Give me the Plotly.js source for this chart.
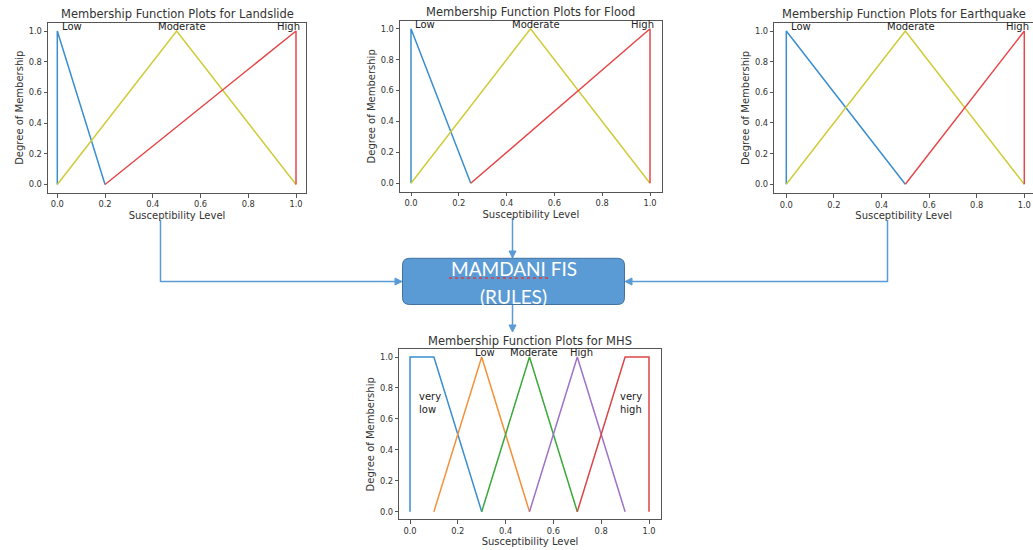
<!DOCTYPE html>
<html><head><meta charset="utf-8">
<script src="https://cdn.plot.ly/plotly-3.0.1.min.js"></script>
<style>html,body{margin:0;padding:0;background:#fff;} #chart{width:1033px;height:550px;}</style>
</head><body><div id="chart"></div>
<script>
// ---------- data ----------
const tickVals = [0, 0.2, 0.4, 0.6, 0.8, 1.0];
const tickText = ['0.0', '0.2', '0.4', '0.6', '0.8', '1.0'];
const mfNames = ['Low', 'Moderate', 'High'];
const mhsNames = ['very low', 'Low', 'Moderate', 'High', 'very high'];

const landslideLowX = [0, 0, 0.2],  landslideLowY = [0, 1, 0];
const landslideModX = [0, 0.5, 1],  landslideModY = [0, 1, 0];
const landslideHighX = [0.2, 1, 1], landslideHighY = [0, 1, 0];

const floodLowX = [0, 0, 0.25],  floodLowY = [0, 1, 0];
const floodModX = [0, 0.5, 1],   floodModY = [0, 1, 0];
const floodHighX = [0.25, 1, 1], floodHighY = [0, 1, 0];

const quakeLowX = [0, 0, 0.5],  quakeLowY = [0, 1, 0];
const quakeModX = [0, 0.5, 1],  quakeModY = [0, 1, 0];
const quakeHighX = [0.5, 1, 1], quakeHighY = [0, 1, 0];

const mhsVeryLowX = [0, 0, 0.1, 0.3],  mhsVeryLowY = [0, 1, 1, 0];
const mhsLowX = [0.1, 0.3, 0.5],       mhsLowY = [0, 1, 0];
const mhsModX = [0.3, 0.5, 0.7],       mhsModY = [0, 1, 0];
const mhsHighX = [0.5, 0.7, 0.9],      mhsHighY = [0, 1, 0];
const mhsVeryHighX = [0.7, 0.9, 1, 1], mhsVeryHighY = [0, 1, 1, 0];

// ---------- layout helpers ----------
const W = 1033, H = 550;
const P = x => x / W, Q = y => 1 - y / H;
const FONT = 'DejaVu Sans';
const TXT = '#333333';
const C3 = ['#3a8ed0', '#cfcc3a', '#e8474a'];
const C5 = ['#3a8ed0', '#f5903a', '#3aa83a', '#9d72c8', '#dc4446'];

const panels = [
  {k: '',  title: 'Membership Function Plots for Landslide',  L: 48,    R: 306,   T: 22.5,  B: 193,   x0: 57.3,  x1: 296,    y1: 31,   y0: 184.5},
  {k: '2', title: 'Membership Function Plots for Flood',      L: 400,   R: 661.7, T: 21,    B: 191.7, x0: 411,   x1: 650,    y1: 28.7, y0: 183.3},
  {k: '3', title: 'Membership Function Plots for Earthquake', L: 774.3, R: 1033,  T: 22.7,  B: 193.3, x0: 786.3, x1: 1024.3, y1: 31,   y0: 184.3},
  {k: '4', title: 'Membership Function Plots for MHS',        L: 399.3, R: 660.7, T: 349.3, B: 519.3, x0: 410,   x1: 649,    y1: 357,  y0: 511.7}
];

const traces = [];
function addLine(k, x, y, color, name) {
  traces.push({x: x, y: y, type: 'scatter', mode: 'lines', name: name,
    xaxis: 'x' + k, yaxis: 'y' + k, line: {color: color, width: 1.5}, hoverinfo: 'skip'});
}
addLine('', landslideLowX, landslideLowY, C3[0], mfNames[0]);
addLine('', landslideModX, landslideModY, C3[1], mfNames[1]);
addLine('', landslideHighX, landslideHighY, C3[2], mfNames[2]);
addLine('2', floodLowX, floodLowY, C3[0], mfNames[0]);
addLine('2', floodModX, floodModY, C3[1], mfNames[1]);
addLine('2', floodHighX, floodHighY, C3[2], mfNames[2]);
addLine('3', quakeLowX, quakeLowY, C3[0], mfNames[0]);
addLine('3', quakeModX, quakeModY, C3[1], mfNames[1]);
addLine('3', quakeHighX, quakeHighY, C3[2], mfNames[2]);
addLine('4', mhsVeryLowX, mhsVeryLowY, C5[0], mhsNames[0]);
addLine('4', mhsLowX, mhsLowY, C5[1], mhsNames[1]);
addLine('4', mhsModX, mhsModY, C5[2], mhsNames[2]);
addLine('4', mhsHighX, mhsHighY, C5[3], mhsNames[3]);
addLine('4', mhsVeryHighX, mhsVeryHighY, C5[4], mhsNames[4]);

const layout = {
  width: W, height: H, margin: {l: 0, r: 0, t: 0, b: 0},
  paper_bgcolor: '#ffffff', plot_bgcolor: '#ffffff', showlegend: false,
  font: {family: FONT, color: TXT},
  annotations: [], shapes: []
};

panels.forEach(p => {
  const xu = p.x1 - p.x0, yu = p.y0 - p.y1;
  const common = {
    showline: true, mirror: true, linecolor: '#555555', linewidth: 1,
    ticks: 'outside', ticklen: 3.5, tickwidth: 1, tickcolor: '#555555',
    tickmode: 'array', tickvals: tickVals, ticktext: tickText,
    tickfont: {family: FONT, size: 8.3, color: TXT},
    showgrid: false, zeroline: false, fixedrange: true
  };
  layout['xaxis' + p.k] = Object.assign({}, common, {
    domain: [P(p.L), P(p.R)],
    range: [(p.L - p.x0) / xu, (p.R - p.x0) / xu],
    anchor: 'y' + p.k,
    title: {text: 'Susceptibility Level', font: {family: FONT, size: 10, color: TXT}, standoff: 3}
  });
  layout['yaxis' + p.k] = Object.assign({}, common, {
    domain: [Q(p.B), Q(p.T)],
    range: [-(p.B - p.y0) / yu, 1 + (p.y1 - p.T) / yu],
    anchor: 'x' + p.k,
    title: {text: 'Degree of Membership', font: {family: FONT, size: 10, color: TXT}, standoff: 3}
  });
  layout.annotations.push({
    xref: 'paper', yref: 'paper', x: P((p.L + p.R) / 2), y: Q(p.T - 8.5),
    xanchor: 'center', yanchor: 'middle', showarrow: false, text: p.title,
    font: {family: FONT, size: 11.5, color: TXT}
  });
});

function lbl(k, x, y, text, xa) {
  layout.annotations.push({xref: 'x' + k, yref: 'y' + k, x: x, y: y, text: text,
    xanchor: xa, yanchor: 'bottom', yshift: -3, showarrow: false,
    font: {family: FONT, size: 10, color: '#222'}});
}
['', '2', '3'].forEach((k, i) => {
  lbl(k, 0.01, 1, mfNames[0], 'left');
  lbl(k, 0.523, 1, mfNames[1], 'center');
  lbl(k, 0.97, 1, mfNames[2], 'center');
});
lbl('4', 0.312, 1, mhsNames[1], 'center');
lbl('4', 0.52, 1, mhsNames[2], 'center');
lbl('4', 0.718, 1, mhsNames[3], 'center');
layout.annotations.push({xref: 'x4', yref: 'y4', x: 0.03, y: 0.70, text: 'very<br>low',
  xanchor: 'left', yanchor: 'middle', align: 'left', showarrow: false,
  font: {family: FONT, size: 10, color: '#222'}});
layout.annotations.push({xref: 'x4', yref: 'y4', x: 0.87, y: 0.70, text: 'very<br>high',
  xanchor: 'left', yanchor: 'middle', align: 'left', showarrow: false,
  font: {family: FONT, size: 10, color: '#222'}});

// ---------- diagram: box and arrows ----------
const AC = '#5B9BD5';
function pathPx(pts, close) {
  return pts.map((pt, i) => (i ? 'L' : 'M') + P(pt[0]) + ',' + Q(pt[1])).join(' ') + (close ? ' Z' : '');
}
function polyline(pts) {
  layout.shapes.push({type: 'path', xref: 'paper', yref: 'paper', path: pathPx(pts, false),
    line: {color: AC, width: 1.5}, layer: 'above'});
}
function head(tx, ty, dir) {
  const len = 7, hw = 3.5;
  let pts;
  if (dir === 'right') pts = [[tx, ty], [tx - len, ty - hw], [tx - len, ty + hw]];
  if (dir === 'left')  pts = [[tx, ty], [tx + len, ty - hw], [tx + len, ty + hw]];
  if (dir === 'down')  pts = [[tx, ty], [tx - hw, ty - len], [tx + hw, ty - len]];
  layout.shapes.push({type: 'path', xref: 'paper', yref: 'paper', path: pathPx(pts, true),
    fillcolor: AC, line: {color: AC, width: 1}, layer: 'above'});
}
polyline([[160.5, 220], [160.5, 281.5], [396, 281.5]]); head(402, 281.5, 'right');
polyline([[887.5, 220], [887.5, 281.5], [631, 281.5]]); head(625, 281.5, 'left');
polyline([[512.5, 218], [512.5, 251]]); head(512.5, 258, 'down');
polyline([[512.5, 305], [512.5, 325]]); head(512.5, 332, 'down');

// rounded box
(function () {
  const L = 402.5, R = 624.5, T = 258.3, B = 304.5, r = 7;
  const pt = (x, y) => P(x) + ',' + Q(y);
  const d = 'M' + pt(L + r, T) + ' L' + pt(R - r, T) + ' Q' + pt(R, T) + ' ' + pt(R, T + r) +
    ' L' + pt(R, B - r) + ' Q' + pt(R, B) + ' ' + pt(R - r, B) +
    ' L' + pt(L + r, B) + ' Q' + pt(L, B) + ' ' + pt(L, B - r) +
    ' L' + pt(L, T + r) + ' Q' + pt(L, T) + ' ' + pt(L + r, T) + ' Z';
  layout.shapes.push({type: 'path', xref: 'paper', yref: 'paper', path: d,
    fillcolor: '#5B9BD5', line: {color: '#41719C', width: 1}, layer: 'above'});
  layout.shapes.push({type: 'line', xref: 'paper', yref: 'paper',
    x0: P(449), x1: P(548), y0: Q(278), y1: Q(278),
    line: {color: '#e03c3c', width: 1.3, dash: 'dot'}, layer: 'above'});
})();
layout.annotations.push({xref: 'paper', yref: 'paper', x: P(513.5), y: Q(268), text: 'MAMDANI FIS',
  xanchor: 'center', yanchor: 'middle', showarrow: false,
  font: {family: 'Lato', size: 19, color: '#ffffff'}});
layout.annotations.push({xref: 'paper', yref: 'paper', x: P(513), y: Q(296), text: '(RULES)',
  xanchor: 'center', yanchor: 'middle', showarrow: false,
  font: {family: 'Lato', size: 19, color: '#ffffff'}});

Plotly.newPlot('chart', traces, layout, {staticPlot: true, displayModeBar: false});
</script>
</body></html>
